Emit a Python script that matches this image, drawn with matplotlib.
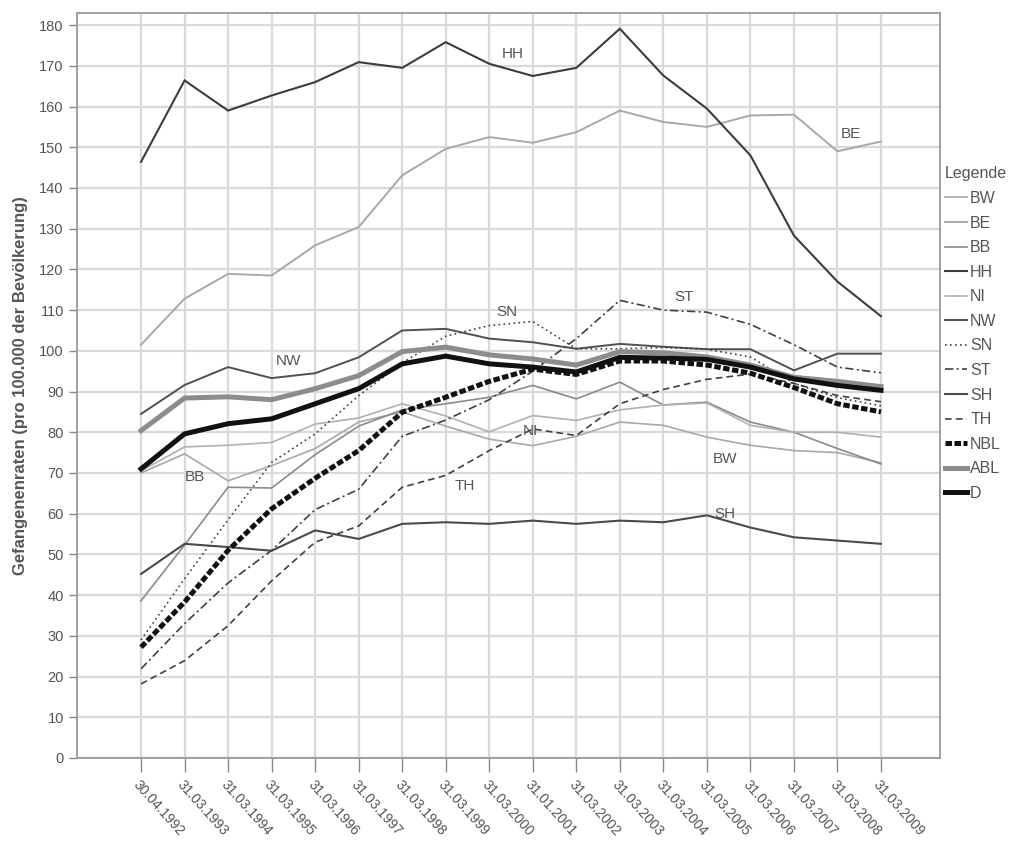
import matplotlib
matplotlib.use("Agg")
import matplotlib.pyplot as plt
import numpy as np

plt.rcParams['font.family'] = ['Liberation Sans', 'DejaVu Sans']

dates = ["30.04.1992", "31.03.1993", "31.03.1994", "31.03.1995", "31.03.1996",
         "31.03.1997", "31.03.1998", "31.03.1999", "31.03.2000", "31.01.2001",
         "31.03.2002", "31.03.2003", "31.03.2004", "31.03.2005", "31.03.2006",
         "31.03.2007", "31.03.2008", "31.03.2009"]

BW = [70, 74.7, 68.1, 71.8, 76, 82.5, 85, 81.5, 78.3, 76.7, 79, 82.5, 81.7, 78.8, 76.8, 75.5, 75, 72.5]
BE = [101.5, 112.8, 118.9, 118.5, 125.9, 130.4, 143.1, 149.6, 152.5, 151.1, 153.7, 159, 156.2, 155, 157.8, 158, 149, 151.4]
BB = [38.6, 52.3, 66.5, 66.3, 74.5, 81.5, 85.5, 87, 88.6, 91.5, 88.2, 92.3, 86.7, 87.4, 82.5, 80, 76, 72.2]
HH = [146.4, 166.4, 159, 162.7, 166, 170.9, 169.5, 175.8, 170.5, 167.5, 169.5, 179.1, 167.6, 159.5, 148, 128.3, 117, 108.5]
NI = [70.5, 76.4, 76.8, 77.5, 82, 83.5, 87, 84, 80.1, 84.1, 82.9, 85.5, 86.7, 87.2, 81.7, 80, 80, 78.8]
NW = [84.5, 91.6, 96, 93.3, 94.5, 98.4, 105, 105.4, 103, 102.1, 100.5, 101.7, 101, 100.4, 100.4, 95.2, 99.3, 99.3]
SN = [29, 44, 58.5, 72.6, 79.6, 89, 97, 103.6, 106.2, 107.2, 100.5, 100.5, 100.8, 100.4, 98.5, 92, 88.5, 86.5]
ST = [21.9, 33, 43, 51, 61, 66, 79, 83, 88, 95, 103, 112.4, 110, 109.5, 106.5, 101.5, 96, 94.6]
SH = [45.2, 52.6, 51.8, 50.9, 55.9, 53.8, 57.5, 57.9, 57.5, 58.3, 57.5, 58.3, 57.9, 59.6, 56.6, 54.2, 53.4, 52.6]
TH = [18.2, 23.9, 32.5, 43.5, 53, 57, 66.5, 69.4, 75.5, 80.8, 79.2, 87, 90.5, 93, 94.3, 92, 89, 87.5]
NBL = [27.2, 38.3, 51, 61.2, 68.7, 75.5, 84.9, 88.6, 92.5, 95.5, 94.2, 97.5, 97.5, 96.5, 94.5, 91, 87, 85]
ABL = [80.4, 88.4, 88.7, 88, 90.7, 93.9, 99.8, 100.9, 99, 98, 96.5, 99.8, 99.5, 98.5, 96.5, 93.5, 92.5, 91.2]
D = [71, 79.6, 82.1, 83.3, 87, 90.7, 96.8, 98.7, 96.8, 96, 94.8, 98.4, 98.2, 97.9, 96, 93.1, 91.5, 90.3]

# in-chart labels: text, x index, y value
lab_names = ["HH", "BE", "SN", "ST", "NW", "NI", "BW", "BB", "TH", "SH"]
lab_x = [8.55, 16.3, 8.41, 12.47, 3.38, 8.94, 13.42, 1.24, 7.44, 13.42]
lab_y = [173, 153.3, 109.6, 113.3, 97.5, 80.3, 73.5, 69, 66.8, 60]

x = np.arange(len(dates))

fig = plt.figure(figsize=(10.3, 8.41), dpi=100)
ax = fig.add_axes([0.0748, 0.0987, 0.838, 0.886])

# name, data, color, lw, dashes
series = [
    ("BW", BW, "#a8a8a8", 1.2, None),
    ("BE", BE, "#a8a8a8", 1.4, None),
    ("BB", BB, "#8a8a8a", 1.2, None),
    ("HH", HH, "#3c3c3c", 1.5, None),
    ("NI", NI, "#b0b0b0", 1.2, None),
    ("NW", NW, "#505050", 1.4, None),
    ("SN", SN, "#404040", 1.2, (1, 2)),
    ("ST", ST, "#404040", 1.2, (5, 2, 1.2, 2)),
    ("SH", SH, "#4a4a4a", 1.5, None),
    ("TH", TH, "#404040", 1.2, (4, 2.5)),
    ("NBL", NBL, "#111111", 3.6, (1.3, 0.5)),
    ("ABL", ABL, "#8c8c8c", 3.6, None),
    ("D", D, "#111111", 3.6, None),
]

for name, vals, col, lw, dash in series:
    line, = ax.plot(x, vals, color=col, lw=lw, label=name, solid_joinstyle="miter")
    if dash is not None:
        line.set_dashes(dash)

for t, lx, ly in zip(lab_names, lab_x, lab_y):
    ax.text(lx, ly, t, fontsize=11, color="#555555", ha="center", va="center")

ax.set_xlim(-1.47, 18.36)
ax.set_ylim(0, 183)
ax.set_yticks(np.arange(0, 181, 10))
ax.set_xticks(x)
ax.set_xticklabels(dates, rotation=-48, ha="left", va="top", rotation_mode="anchor",
                   fontsize=10, color="#555555")
ax.tick_params(axis="y", labelsize=10.5, labelcolor="#555555", color="#888888", length=6, width=1)
ax.tick_params(axis="x", color="#888888", length=10, width=1, pad=4)
ax.grid(True, color="#d9d9d9", lw=1.6)
ax.set_axisbelow(True)
for s in ax.spines.values():
    s.set_color("#999999")
    s.set_linewidth(1.3)

ax.set_ylabel("Gefangenenraten (pro 100.000 der Bevölkerung)", fontsize=12,
              color="#555555", fontweight="bold", labelpad=8)

leg = ax.legend(loc="upper left", bbox_to_anchor=(0.914, 0.806), bbox_transform=fig.transFigure,
                frameon=False, title="Legende", fontsize=11.5, title_fontsize=11.5,
                handlelength=1.4, handletextpad=0.2, labelspacing=0.6, borderpad=0.2,
                borderaxespad=0)
for txt in leg.get_texts():
    txt.set_color("#555555")
leg.get_title().set_color("#555555")
leg._legend_box.align = "left"

fig.savefig("out.png", dpi=100)
